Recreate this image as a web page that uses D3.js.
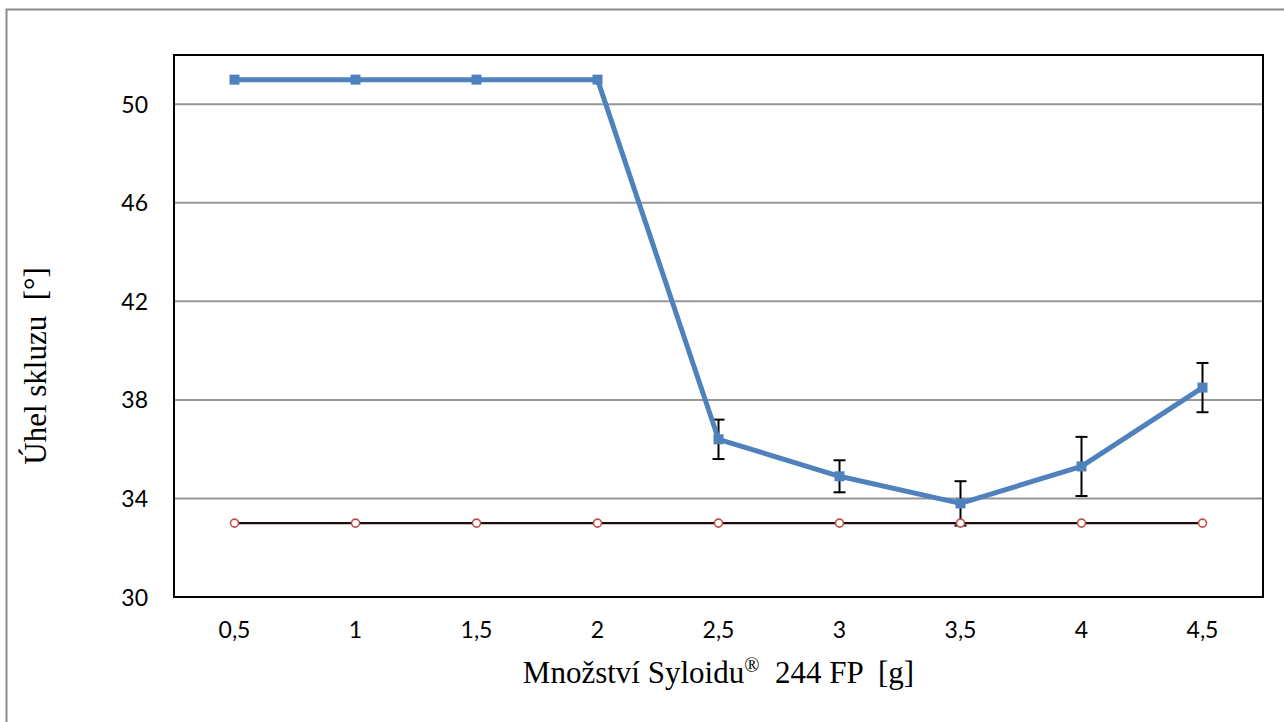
<!DOCTYPE html>
<html>
<head>
<meta charset="utf-8">
<script src="https://cdn.jsdelivr.net/npm/d3@7"></script>
<style>
  body { margin:0; background:#fff; }
</style>
</head>
<body>
<div id="chart"></div>
<script>
const categories = ["0,5","1","1,5","2","2,5","3","3,5","4","4,5"];
const angleValues = [51, 51, 51, 51, 36.4, 34.9, 33.8, 35.3, 38.5];
const angleErrors = [null, null, null, null, 0.8, 0.65, 0.9, 1.2, 1.0];
const limitValues = [33, 33, 33, 33, 33, 33, 33, 33, 33];
const yTicks = [30, 34, 38, 42, 46, 50];

const W = 1284, H = 722;
const m = {left:174, top:55, right:1263, bottom:597};
const tickFont = "Lato,'Open Sans',sans-serif";
const titleFont = "'Liberation Serif','Times New Roman',serif";

const svg = d3.select("#chart").append("svg")
  .attr("width", W).attr("height", H);

// outer chart frame (right/bottom fall outside the picture)
svg.append("path")
  .attr("d", "M6.5,722 V9.5 H1284")
  .attr("fill","none").attr("stroke","#8c8c8c").attr("stroke-width",2);

const x = d3.scaleBand().domain(categories).range([m.left, m.right]);
const y = d3.scaleLinear().domain([30, 52]).range([m.bottom, m.top]);
const cx = d => x(d) + x.bandwidth()/2;

// gridlines
svg.append("g").selectAll("line")
  .data(yTicks.filter(t => t > 30))
  .enter().append("line")
    .attr("x1", m.left).attr("x2", m.right)
    .attr("y1", d => y(d)).attr("y2", d => y(d))
    .attr("stroke","#969696").attr("stroke-width",2);

// y tick labels
svg.append("g").selectAll("text")
  .data(yTicks).enter().append("text")
    .attr("font-family", tickFont).attr("font-size", 23)
    .attr("x", m.left - 26).attr("y", d => y(d) + 8.5)
    .attr("text-anchor","end")
    .text(d => d);

// x tick labels
svg.append("g").selectAll("text")
  .data(categories).enter().append("text")
    .attr("font-family", tickFont).attr("font-size", 23)
    .attr("x", d => cx(d)).attr("y", m.bottom + 41)
    .attr("text-anchor","middle")
    .text(d => d);

// limit line (black with red circle markers)
const limit = categories.map((c,i) => ({c, v: limitValues[i]}));
svg.append("path").datum(limit)
  .attr("d", d3.line().x(d => cx(d.c)).y(d => y(d.v)))
  .attr("fill","none").attr("stroke","#1a0a0a").attr("stroke-width",2.2);

// main series
const pts = categories.map((c,i) => ({c, v: angleValues[i], e: angleErrors[i]}));

// error bars
const eb = svg.append("g").selectAll("g")
  .data(pts.filter(d => d.e != null)).enter().append("g")
  .attr("stroke","#000").attr("stroke-width",2);
eb.append("line")
  .attr("x1", d => cx(d.c)).attr("x2", d => cx(d.c))
  .attr("y1", d => y(d.v + d.e)).attr("y2", d => y(d.v - d.e));
eb.append("line")
  .attr("x1", d => cx(d.c) - 6).attr("x2", d => cx(d.c) + 6)
  .attr("y1", d => y(d.v + d.e)).attr("y2", d => y(d.v + d.e));
eb.append("line")
  .attr("x1", d => cx(d.c) - 6).attr("x2", d => cx(d.c) + 6)
  .attr("y1", d => y(d.v - d.e)).attr("y2", d => y(d.v - d.e));

svg.append("path").datum(pts)
  .attr("d", d3.line().x(d => cx(d.c)).y(d => y(d.v)))
  .attr("fill","none").attr("stroke","#4f81bd").attr("stroke-width",5)
  .attr("stroke-linejoin","round");

svg.append("g").selectAll("rect")
  .data(pts).enter().append("rect")
    .attr("x", d => cx(d.c) - 5).attr("y", d => y(d.v) - 5)
    .attr("width", 10).attr("height", 10)
    .attr("fill","#4f81bd");

// red circle markers
svg.append("g").selectAll("circle")
  .data(limit).enter().append("circle")
    .attr("cx", d => cx(d.c)).attr("cy", d => y(d.v))
    .attr("r", 4)
    .attr("fill","#fff").attr("stroke","#c0504d").attr("stroke-width",1.6);

// plot frame
svg.append("rect")
  .attr("x", m.left).attr("y", m.top)
  .attr("width", m.right - m.left).attr("height", m.bottom - m.top)
  .attr("fill","none").attr("stroke","#000").attr("stroke-width",2);

// axis titles
const xt = svg.append("text")
  .attr("font-family", titleFont).attr("font-size", 31)
  .attr("xml:space","preserve").style("white-space","pre")
  .attr("x", (m.left + m.right)/2).attr("y", 683)
  .attr("text-anchor","middle");
xt.append("tspan").text("Množství Syloidu");
xt.append("tspan").attr("font-size", 20).attr("dy", -11).text("®");
xt.append("tspan").attr("dy", 11).text("  244 FP  [g]");

svg.append("text")
  .attr("font-family", titleFont).attr("font-size", 31)
  .attr("xml:space","preserve").style("white-space","pre")
  .attr("transform", "translate(46,366) rotate(-90)")
  .attr("text-anchor","middle")
  .text("Úhel skluzu  [°]");
</script>
</body>
</html>
